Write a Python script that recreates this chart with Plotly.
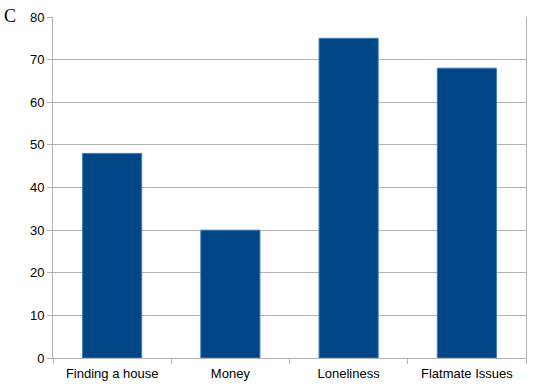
import plotly.graph_objects as go

categories = ["Finding a house", "Money", "Loneliness", "Flatmate Issues"]
values = [48, 30, 75, 68]
y_ticks = [0, 10, 20, 30, 40, 50, 60, 70, 80]

fig = go.Figure(go.Bar(
    x=categories, y=values,
    marker=dict(color="#004586", line=dict(color="#3f7fb8", width=1)),
    width=0.5,
))

fig.update_layout(
    width=534, height=388,
    margin=dict(l=53, r=8, t=17, b=30, autoexpand=False),
    paper_bgcolor="white", plot_bgcolor="white",
    showlegend=False,
    font=dict(family="Liberation Sans, Arial, sans-serif", size=13, color="#000000"),
    xaxis=dict(
        type="category", tickson="boundaries", ticks="outside", ticklen=5,
        tickcolor="#b3b3b3", showline=True, linecolor="#b3b3b3", linewidth=1,
        showgrid=False, tickfont=dict(size=13), automargin=False,
        ticklabelstandoff=3,
    ),
    yaxis=dict(
        range=[0, 80], tickvals=y_ticks, ticks="outside", ticklen=5,
        tickcolor="#b3b3b3", showline=True, linecolor="#b3b3b3", linewidth=1,
        mirror=True, showgrid=True, gridcolor="#b3b3b3", gridwidth=1,
        zeroline=False, tickfont=dict(size=13), automargin=False,
    ),
    annotations=[dict(
        text="C", xref="paper", yref="paper",
        x=(2 - 53) / 473, y=1 + (17 - 4) / 341,
        xanchor="left", yanchor="top", showarrow=False,
        font=dict(family="Liberation Serif, serif", size=18, color="#000000"),
    )],
)

fig.write_html(
    "out.html",
    config={"displayModeBar": False},
    post_script="document.body.style.margin='0';document.body.style.padding='0';",
)
